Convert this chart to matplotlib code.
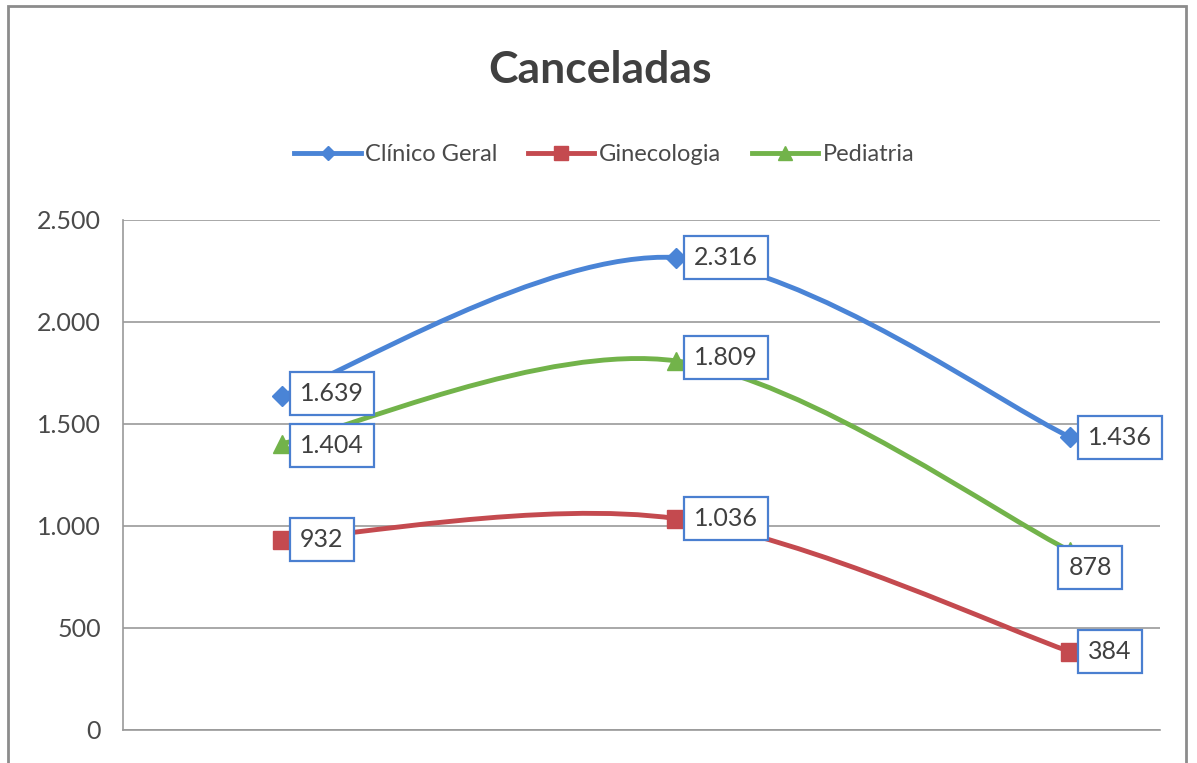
import matplotlib
matplotlib.use("Agg")
import matplotlib.pyplot as plt
from matplotlib.path import Path
from matplotlib.patches import PathPatch, Rectangle
from matplotlib.lines import Line2D
from matplotlib.ticker import FuncFormatter

plt.rcParams['font.family'] = ['Lato', 'DejaVu Sans']

# data
months = ['1', '2', '3']
series_names = ['Clínico Geral', 'Ginecologia', 'Pediatria']
clinico = [1639, 2316, 1436]
gineco = [932, 1036, 384]
pediatria = [1404, 1809, 878]
yticks = [0, 500, 1000, 1500, 2000, 2500]

colors = ['#4A84D6', '#C44A4F', '#72B34A']
markers = ['D', 's', '^']
msizes = [10, 13, 13]
# label offsets (pixels) and alignment per point
label_pos = [
    [(18, 2, 'left'), (18, 0, 'left'), (18, 0, 'left')],
    [(18, 0, 'left'), (18, 0, 'left'), (18, 0, 'left')],
    [(18, -2, 'left'), (18, 3, 'left'), (20, -17, 'center')],
]


def smooth_path(xs, ys):
    # excel-like smoothed line: catmull-rom as cubic bezier
    pts = list(zip(xs, ys))
    n = len(pts)
    verts = [pts[0]]
    codes = [Path.MOVETO]
    for i in range(n - 1):
        p0 = pts[max(i - 1, 0)]
        p1 = pts[i]
        p2 = pts[i + 1]
        p3 = pts[min(i + 2, n - 1)]
        c1 = (p1[0] + (p2[0] - p0[0]) / 6, p1[1] + (p2[1] - p0[1]) / 6)
        c2 = (p2[0] - (p3[0] - p1[0]) / 6, p2[1] - (p3[1] - p1[1]) / 6)
        verts += [c1, c2, p2]
        codes += [Path.CURVE4] * 3
    return Path(verts, codes)


fig = plt.figure(figsize=(11.97, 7.63), dpi=100)
ax = fig.add_axes([0.1028, 0.0433, 0.8663, 0.6684])

x = list(range(len(months)))
all_series = [clinico, gineco, pediatria]
handles = []
for k, vals in enumerate(all_series):
    patch = PathPatch(smooth_path(x, vals), facecolor='none', edgecolor=colors[k],
                      lw=3.5, capstyle='round', joinstyle='round', zorder=3)
    ax.add_patch(patch)
    ax.plot(x, vals, linestyle='none', marker=markers[k], ms=msizes[k],
            color=colors[k], zorder=4)
    handles.append(Line2D([], [], color=colors[k], lw=3.5, marker=markers[k],
                          ms=msizes[k] * 0.75))
    for i, v in enumerate(vals):
        dx, dy, ha = label_pos[k][i]
        ax.annotate(f'{v:,}'.replace(',', '.'), (i, v), xytext=(dx, dy),
                    textcoords='offset pixels', ha=ha, va='center',
                    fontsize=18, color='#404040', zorder=6,
                    bbox=dict(boxstyle='square,pad=0.4', fc='white',
                              ec='#4A7FD0', lw=1.6))

ax.set_xlim(-0.404, 2.228)
ax.set_ylim(0, 2500)
ax.set_yticks(yticks)
ax.yaxis.set_major_formatter(FuncFormatter(lambda v, p: f'{int(v):,}'.replace(',', '.')))
ax.set_xticks([])
ax.tick_params(axis='y', length=0, pad=16, labelsize=18, labelcolor='#4A4A4A')
ax.grid(axis='y', color='#9A9A9A', lw=1.2, zorder=0)
for s in ['top', 'right']:
    ax.spines[s].set_visible(False)
ax.spines['left'].set_color('#9A9A9A')
ax.spines['bottom'].set_color('#9A9A9A')
ax.spines['left'].set_linewidth(1.2)
ax.spines['bottom'].set_linewidth(1.2)

fig.text(0.501, 0.908, 'Canceladas', ha='center', va='center',
         fontsize=32, fontweight='bold', color='#404040')
fig.legend(handles, series_names, loc='center', bbox_to_anchor=(0.505, 0.797),
           ncol=3, frameon=False, fontsize=17, handlelength=2.8,
           handletextpad=0.2, columnspacing=1.3, labelcolor='#4A4A4A')

# chart area border
fig.patches.append(Rectangle((8 / 1197, -0.05), 1178 / 1197, 1.05 - 6 / 763,
                             transform=fig.transFigure, fill=False,
                             ec='#8C8C8C', lw=2))

fig.savefig('out.png', dpi=100)
